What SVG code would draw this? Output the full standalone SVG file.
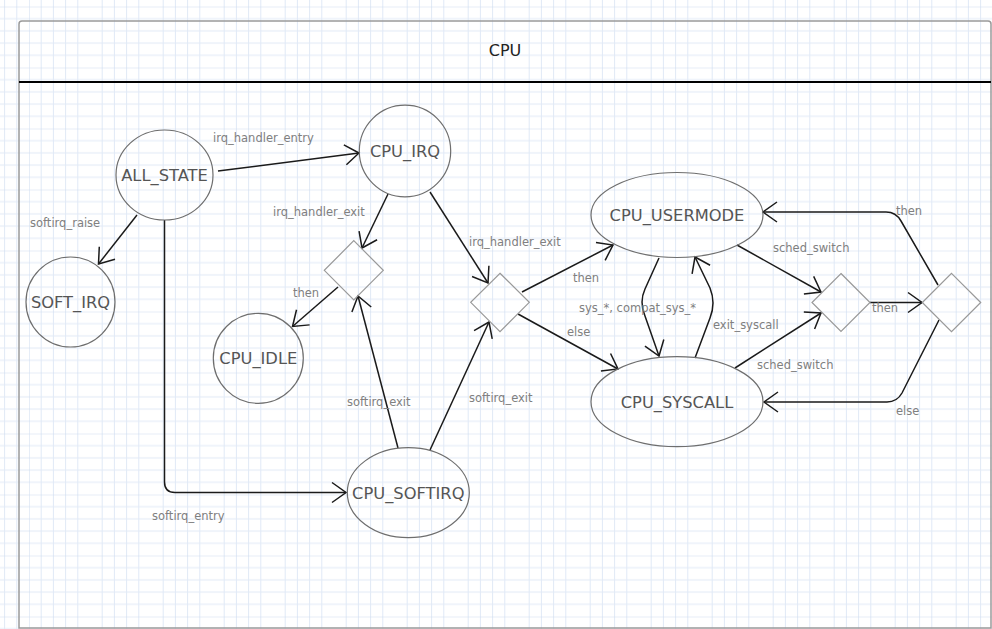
<svg xmlns="http://www.w3.org/2000/svg" width="992" height="629" viewBox="0 0 992 629">
  <defs>
    <pattern id="grid" patternUnits="userSpaceOnUse" x="29" y="6.5" width="61" height="61">
      <path d="M12.2,0V61M24.4,0V61M36.6,0V61M48.8,0V61M0,12.2H61M0,24.4H61M0,36.6H61M0,48.8H61" stroke="#e0e9f6" stroke-width="1" fill="none"/>
      <path d="M0,0V61M0,0H61" stroke="#cddbef" stroke-width="1" fill="none"/>
    </pattern>
    <marker id="arr" markerUnits="userSpaceOnUse" markerWidth="18" markerHeight="24" viewBox="-16 -12 18 24" refX="0" refY="0" orient="auto" overflow="visible">
      <path d="M-14,-10 L0,0 L-14,10" fill="none" stroke="#1a1a1a" stroke-width="1.5" stroke-linejoin="miter"/>
    </marker>
    <style>
      .node { fill: none; stroke: #6e6e6e; stroke-width: 1.2; }
      .dia { fill: none; stroke: #999999; stroke-width: 1.2; }
      .nt { font-family: "DejaVu Sans", "Liberation Sans", sans-serif; font-size: 16.3px; fill: #555555; text-anchor: middle; }
      .lbl { font-family: "DejaVu Sans", "Liberation Sans", sans-serif; font-size: 11.5px; fill: #808080; }
      .edge { fill: none; stroke: #1a1a1a; stroke-width: 1.5; marker-end: url(#arr); }
    </style>
  </defs>

  <rect x="0" y="0" width="992" height="629" fill="#ffffff"/>
  <rect x="0" y="0" width="992" height="629" fill="url(#grid)"/>

  <g id="container">
    <path d="M19,628 L19,24 Q19,21 22,21 L988,21 Q991,21 991,24 L991,628 Z" fill="none" stroke="#9a9a9a" stroke-width="1.5"/>
    <line x1="19" y1="82" x2="991" y2="82" stroke="#000000" stroke-width="2.2"/>
    <text x="505" y="55.5" font-family="DejaVu Sans, Liberation Sans, sans-serif" font-size="16" fill="#222222" text-anchor="middle">CPU</text>
  </g>

  <g id="connectors">
    <path id="e1" class="edge" d="M218,171 L359,153"/>
    <path id="e2" class="edge" d="M137,215 L98.5,264"/>
    <path id="e3" class="edge" d="M164.5,220 L164.5,482 Q164.5,492.5 175,492.5 L346,492.5"/>
    <path id="e4" class="edge" d="M388,194 L362,248"/>
    <path id="e5" class="edge" d="M338,287 L292.5,326.5"/>
    <path id="e6" class="edge" d="M398,448 L358,296"/>
    <path id="e7" class="edge" d="M430,450 L489,322"/>
    <path id="e8" class="edge" d="M430,192 L488,283"/>
    <path id="e9" class="edge" d="M522,292 L613,245"/>
    <path id="e10" class="edge" d="M518,314 L618,369"/>
    <path id="e11" class="edge" d="M659,258 L645,289 Q639,302 645,316 L659,356"/>
    <path id="e12" class="edge" d="M695,358 L710,318 Q716,303 710,288 L695,257"/>
    <path id="e13" class="edge" d="M737,245 L821,292"/>
    <path id="e14" class="edge" d="M735,368 L821,313"/>
    <path id="e15" class="edge" d="M870,302.5 L922,302.5"/>
    <path id="e16" class="edge" d="M938,285 L901,221 Q896,212 886,212 L763,212"/>
    <path id="e17" class="edge" d="M939,320 L902,393 Q897,402 887,402 L764,402"/>
    <g id="edge-labels">
      <text class="lbl" x="213" y="141.5">irq_handler_entry</text>
      <text class="lbl" x="30" y="226.5">softirq_raise</text>
      <text class="lbl" x="152" y="520">softirq_entry</text>
      <text class="lbl" x="273" y="216">irq_handler_exit</text>
      <text class="lbl" x="293" y="297">then</text>
      <text class="lbl" x="347" y="406">softirq_exit</text>
      <text class="lbl" x="469" y="401.5">softirq_exit</text>
      <text class="lbl" x="469" y="245.5">irq_handler_exit</text>
      <text class="lbl" x="573" y="282">then</text>
      <text class="lbl" x="567" y="336">else</text>
      <text class="lbl" x="579" y="312">sys_*, compat_sys_*</text>
      <text class="lbl" x="713" y="329">exit_syscall</text>
      <text class="lbl" x="773" y="251.5">sched_switch</text>
      <text class="lbl" x="757" y="369">sched_switch</text>
      <text class="lbl" x="872" y="312">then</text>
      <text class="lbl" x="896" y="215">then</text>
      <text class="lbl" x="896" y="415">else</text>
    </g>
  </g>

  <g id="ALL_STATE">
    <ellipse class="node" cx="164.5" cy="175" rx="48.5" ry="45"/>
    <text class="nt" x="164.5" y="181">ALL_STATE</text>
  </g>
  <g id="SOFT_IRQ">
    <ellipse class="node" cx="70.5" cy="302" rx="44.5" ry="45"/>
    <text class="nt" x="70.5" y="308">SOFT_IRQ</text>
  </g>
  <g id="CPU_IRQ">
    <ellipse class="node" cx="405" cy="151" rx="45.7" ry="45.8"/>
    <text class="nt" x="405" y="157">CPU_IRQ</text>
  </g>
  <g id="CPU_IDLE">
    <ellipse class="node" cx="258.3" cy="358.3" rx="45" ry="45"/>
    <text class="nt" x="258.3" y="364.3">CPU_IDLE</text>
  </g>
  <g id="CPU_SOFTIRQ">
    <ellipse class="node" cx="408.3" cy="492.7" rx="61" ry="45"/>
    <text class="nt" x="408.3" y="498.7">CPU_SOFTIRQ</text>
  </g>
  <g id="CPU_USERMODE">
    <ellipse class="node" cx="677" cy="215" rx="86" ry="42.5"/>
    <text class="nt" x="677" y="221">CPU_USERMODE</text>
  </g>
  <g id="CPU_SYSCALL">
    <ellipse class="node" cx="677" cy="401.7" rx="86" ry="45"/>
    <text class="nt" x="677" y="408">CPU_SYSCALL</text>
  </g>
  <g id="choice1">
    <polygon class="dia" points="353.8,240.7 383.3,270.3 353.8,300 324.3,270.3"/>
  </g>
  <g id="choice2">
    <polygon class="dia" points="500,273.3 529.3,302.3 500,331.7 470.7,302.3"/>
  </g>
  <g id="choice3">
    <polygon class="dia" points="841,273.5 870,302.5 841,331.5 812,302.5"/>
  </g>
  <g id="choice4">
    <polygon class="dia" points="951.5,273.3 980.7,302.5 951.5,331.7 922.3,302.5"/>
  </g>
</svg>
